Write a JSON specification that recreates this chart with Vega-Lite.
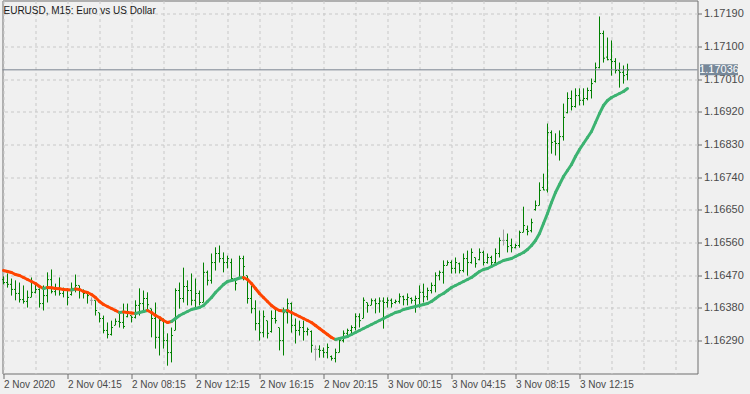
{
"$schema": "https://vega.github.io/schema/vega-lite/v6.json",
"width": 695, "height": 373,
"autosize": {"type": "none"},
"padding": {"left": 2.5, "top": 0.5, "right": 52.5, "bottom": 20.5},
"background": "#f0f0f0",
"title": {"text": "EURUSD, M15:  Euro vs US Dollar", "anchor": "start", "frame": "group", "orient": "top", "offset": -23, "baseline": "alphabetic", "font": "Liberation Sans", "fontSize": 10, "fontWeight": "normal", "color": "#1a1a1a", "dx": 1},
"config": {"view": {"stroke": "#6e6e6e", "strokeWidth": 1}, "axis": {"labelOverlap": false, "labelBound": false}},
"data": {"format": {"parse": {"t": "utc:'%Y-%m-%d %H:%M'"}}, "values": [
{"t":"2020-11-02 00:15","o":1.16458,"h":1.16467,"l":1.16445,"c":1.16450,"ma":1.164832,"trend":"down"},
{"t":"2020-11-02 00:30","o":1.16450,"h":1.16475,"l":1.16436,"c":1.16445,"ma":1.164804,"trend":"down"},
{"t":"2020-11-02 00:45","o":1.16445,"h":1.16461,"l":1.16414,"c":1.16431,"ma":1.164776,"trend":"down"},
{"t":"2020-11-02 01:00","o":1.16431,"h":1.16456,"l":1.16401,"c":1.16420,"ma":1.164721,"trend":"down"},
{"t":"2020-11-02 01:15","o":1.16420,"h":1.16450,"l":1.16395,"c":1.16403,"ma":1.164694,"trend":"down"},
{"t":"2020-11-02 01:30","o":1.16403,"h":1.16442,"l":1.16392,"c":1.16398,"ma":1.164639,"trend":"down"},
{"t":"2020-11-02 01:45","o":1.16398,"h":1.16428,"l":1.16381,"c":1.16409,"ma":1.164584,"trend":"down"},
{"t":"2020-11-02 02:00","o":1.16409,"h":1.16464,"l":1.16409,"c":1.16423,"ma":1.164528,"trend":"down"},
{"t":"2020-11-02 02:15","o":1.16423,"h":1.16447,"l":1.16420,"c":1.16431,"ma":1.164473,"trend":"down"},
{"t":"2020-11-02 02:30","o":1.16431,"h":1.16434,"l":1.16381,"c":1.16392,"ma":1.164391,"trend":"down"},
{"t":"2020-11-02 02:45","o":1.16392,"h":1.16442,"l":1.16373,"c":1.16414,"ma":1.164336,"trend":"up"},
{"t":"2020-11-02 03:00","o":1.16414,"h":1.16478,"l":1.16395,"c":1.16458,"ma":1.164363,"trend":"down"},
{"t":"2020-11-02 03:15","o":1.16458,"h":1.16486,"l":1.16420,"c":1.16425,"ma":1.164355,"trend":"down"},
{"t":"2020-11-02 03:30","o":1.16425,"h":1.16447,"l":1.16414,"c":1.16434,"ma":1.164336,"trend":"down"},
{"t":"2020-11-02 03:45","o":1.16434,"h":1.16464,"l":1.16414,"c":1.16420,"ma":1.164328,"trend":"down"},
{"t":"2020-11-02 04:00","o":1.16420,"h":1.16436,"l":1.16409,"c":1.16428,"ma":1.164308,"trend":"down"},
{"t":"2020-11-02 04:15","o":1.16428,"h":1.16434,"l":1.16387,"c":1.16409,"ma":1.164303,"trend":"down"},
{"t":"2020-11-02 04:30","o":1.16417,"h":1.16450,"l":1.16414,"c":1.16434,"ma":1.164294,"trend":"up"},
{"t":"2020-11-02 04:45","o":1.16434,"h":1.16472,"l":1.16423,"c":1.16442,"ma":1.164322,"trend":"down"},
{"t":"2020-11-02 05:00","o":1.16442,"h":1.16442,"l":1.16406,"c":1.16428,"ma":1.164308,"trend":"down"},
{"t":"2020-11-02 05:15","o":1.16428,"h":1.16431,"l":1.16406,"c":1.16420,"ma":1.164253,"trend":"down"},
{"t":"2020-11-02 05:30","o":1.16420,"h":1.16423,"l":1.16392,"c":1.16414,"ma":1.164225,"trend":"down"},
{"t":"2020-11-02 05:45","o":1.16401,"h":1.16409,"l":1.16387,"c":1.16401,"ma":1.164170,"trend":"down"},
{"t":"2020-11-02 06:00","o":1.16401,"h":1.16401,"l":1.16359,"c":1.16373,"ma":1.164088,"trend":"down"},
{"t":"2020-11-02 06:15","o":1.16367,"h":1.16367,"l":1.16340,"c":1.16351,"ma":1.163978,"trend":"down"},
{"t":"2020-11-02 06:30","o":1.16351,"h":1.16359,"l":1.16310,"c":1.16318,"ma":1.163895,"trend":"down"},
{"t":"2020-11-02 06:45","o":1.16318,"h":1.16340,"l":1.16296,"c":1.16307,"ma":1.163840,"trend":"down"},
{"t":"2020-11-02 07:00","o":1.16307,"h":1.16345,"l":1.16304,"c":1.16326,"ma":1.163785,"trend":"down"},
{"t":"2020-11-02 07:15","o":1.16332,"h":1.16351,"l":1.16332,"c":1.16343,"ma":1.163730,"trend":"down"},
{"t":"2020-11-02 07:30","o":1.16343,"h":1.16365,"l":1.16326,"c":1.16340,"ma":1.163674,"trend":"up"},
{"t":"2020-11-02 07:45","o":1.16340,"h":1.16392,"l":1.16323,"c":1.16329,"ma":1.163688,"trend":"down"},
{"t":"2020-11-02 08:00","o":1.16356,"h":1.16392,"l":1.16354,"c":1.16370,"ma":1.163674,"trend":"down"},
{"t":"2020-11-02 08:15","o":1.16359,"h":1.16359,"l":1.16340,"c":1.16354,"ma":1.163660,"trend":"down"},
{"t":"2020-11-02 08:30","o":1.16354,"h":1.16401,"l":1.16351,"c":1.16387,"ma":1.163647,"trend":"up"},
{"t":"2020-11-02 08:45","o":1.16387,"h":1.16434,"l":1.16359,"c":1.16392,"ma":1.163674,"trend":"up"},
{"t":"2020-11-02 09:00","o":1.16392,"h":1.16428,"l":1.16367,"c":1.16406,"ma":1.163702,"trend":"up"},
{"t":"2020-11-02 09:15","o":1.16406,"h":1.16423,"l":1.16373,"c":1.16389,"ma":1.163730,"trend":"down"},
{"t":"2020-11-02 09:30","o":1.16378,"h":1.16378,"l":1.16299,"c":1.16351,"ma":1.163674,"trend":"down"},
{"t":"2020-11-02 09:45","o":1.16351,"h":1.16395,"l":1.16268,"c":1.16299,"ma":1.163592,"trend":"down"},
{"t":"2020-11-02 10:00","o":1.16299,"h":1.16354,"l":1.16249,"c":1.16345,"ma":1.163537,"trend":"down"},
{"t":"2020-11-02 10:15","o":1.16345,"h":1.16351,"l":1.16268,"c":1.16290,"ma":1.163454,"trend":"down"},
{"t":"2020-11-02 10:30","o":1.16290,"h":1.16310,"l":1.16221,"c":1.16257,"ma":1.163399,"trend":"down"},
{"t":"2020-11-02 10:45","o":1.16257,"h":1.16326,"l":1.16230,"c":1.16304,"ma":1.163426,"trend":"up"},
{"t":"2020-11-02 11:00","o":1.16318,"h":1.16434,"l":1.16318,"c":1.16428,"ma":1.163509,"trend":"up"},
{"t":"2020-11-02 11:15","o":1.16428,"h":1.16450,"l":1.16378,"c":1.16406,"ma":1.163592,"trend":"up"},
{"t":"2020-11-02 11:30","o":1.16406,"h":1.16491,"l":1.16395,"c":1.16439,"ma":1.163647,"trend":"up"},
{"t":"2020-11-02 11:45","o":1.16439,"h":1.16456,"l":1.16387,"c":1.16428,"ma":1.163702,"trend":"up"},
{"t":"2020-11-02 12:00","o":1.16428,"h":1.16475,"l":1.16387,"c":1.16401,"ma":1.163757,"trend":"up"},
{"t":"2020-11-02 12:15","o":1.16401,"h":1.16461,"l":1.16378,"c":1.16420,"ma":1.163785,"trend":"up"},
{"t":"2020-11-02 12:30","o":1.16420,"h":1.16428,"l":1.16387,"c":1.16395,"ma":1.163812,"trend":"up"},
{"t":"2020-11-02 12:45","o":1.16395,"h":1.16505,"l":1.16395,"c":1.16478,"ma":1.163867,"trend":"up"},
{"t":"2020-11-02 13:00","o":1.16478,"h":1.16483,"l":1.16442,"c":1.16456,"ma":1.163978,"trend":"up"},
{"t":"2020-11-02 13:15","o":1.16456,"h":1.16530,"l":1.16447,"c":1.16505,"ma":1.164088,"trend":"up"},
{"t":"2020-11-02 13:30","o":1.16505,"h":1.16547,"l":1.16483,"c":1.16530,"ma":1.164225,"trend":"up"},
{"t":"2020-11-02 13:45","o":1.16530,"h":1.16552,"l":1.16505,"c":1.16516,"ma":1.164336,"trend":"up"},
{"t":"2020-11-02 14:00","o":1.16516,"h":1.16533,"l":1.16478,"c":1.16505,"ma":1.164446,"trend":"up"},
{"t":"2020-11-02 14:15","o":1.16505,"h":1.16524,"l":1.16489,"c":1.16516,"ma":1.164528,"trend":"up"},
{"t":"2020-11-02 14:30","o":1.16505,"h":1.16516,"l":1.16456,"c":1.16461,"ma":1.164556,"trend":"up"},
{"t":"2020-11-02 14:45","o":1.16461,"h":1.16461,"l":1.16428,"c":1.16447,"ma":1.164584,"trend":"up"},
{"t":"2020-11-02 15:00","o":1.16464,"h":1.16524,"l":1.16461,"c":1.16516,"ma":1.164625,"trend":"up"},
{"t":"2020-11-02 15:15","o":1.16516,"h":1.16524,"l":1.16456,"c":1.16494,"ma":1.164639,"trend":"down"},
{"t":"2020-11-02 15:30","o":1.16469,"h":1.16469,"l":1.16392,"c":1.16406,"ma":1.164584,"trend":"down"},
{"t":"2020-11-02 15:45","o":1.16406,"h":1.16442,"l":1.16365,"c":1.16378,"ma":1.164473,"trend":"down"},
{"t":"2020-11-02 16:00","o":1.16378,"h":1.16401,"l":1.16318,"c":1.16337,"ma":1.164336,"trend":"down"},
{"t":"2020-11-02 16:15","o":1.16337,"h":1.16373,"l":1.16290,"c":1.16312,"ma":1.164198,"trend":"down"},
{"t":"2020-11-02 16:30","o":1.16312,"h":1.16373,"l":1.16299,"c":1.16356,"ma":1.164088,"trend":"down"},
{"t":"2020-11-02 16:45","o":1.16345,"h":1.16345,"l":1.16296,"c":1.16310,"ma":1.163978,"trend":"down"},
{"t":"2020-11-02 17:00","o":1.16315,"h":1.16373,"l":1.16312,"c":1.16351,"ma":1.163867,"trend":"down"},
{"t":"2020-11-02 17:15","o":1.16351,"h":1.16381,"l":1.16337,"c":1.16345,"ma":1.163785,"trend":"down"},
{"t":"2020-11-02 17:30","o":1.16326,"h":1.16326,"l":1.16263,"c":1.16290,"ma":1.163730,"trend":"down"},
{"t":"2020-11-02 17:45","o":1.16290,"h":1.16381,"l":1.16249,"c":1.16367,"ma":1.163716,"trend":"up"},
{"t":"2020-11-02 18:00","o":1.16367,"h":1.16406,"l":1.16337,"c":1.16392,"ma":1.163730,"trend":"down"},
{"t":"2020-11-02 18:15","o":1.16392,"h":1.16395,"l":1.16312,"c":1.16332,"ma":1.163674,"trend":"down"},
{"t":"2020-11-02 18:30","o":1.16332,"h":1.16351,"l":1.16282,"c":1.16318,"ma":1.163619,"trend":"down"},
{"t":"2020-11-02 18:45","o":1.16318,"h":1.16345,"l":1.16304,"c":1.16326,"ma":1.163564,"trend":"down"},
{"t":"2020-11-02 19:00","o":1.16326,"h":1.16345,"l":1.16290,"c":1.16315,"ma":1.163509,"trend":"down"},
{"t":"2020-11-02 19:15","o":1.16315,"h":1.16326,"l":1.16304,"c":1.16321,"ma":1.163454,"trend":"down"},
{"t":"2020-11-02 19:30","o":1.16315,"h":1.16318,"l":1.16257,"c":1.16277,"ma":1.163399,"trend":"down"},
{"t":"2020-11-02 19:45","o":1.16266,"h":1.16277,"l":1.16235,"c":1.16266,"ma":1.163316,"trend":"down"},
{"t":"2020-11-02 20:00","o":1.16266,"h":1.16277,"l":1.16243,"c":1.16263,"ma":1.163234,"trend":"down"},
{"t":"2020-11-02 20:15","o":1.16263,"h":1.16271,"l":1.16243,"c":1.16257,"ma":1.163151,"trend":"down"},
{"t":"2020-11-02 20:30","o":1.16257,"h":1.16282,"l":1.16241,"c":1.16271,"ma":1.163068,"trend":"down"},
{"t":"2020-11-02 20:45","o":1.16246,"h":1.16249,"l":1.16235,"c":1.16241,"ma":1.162986,"trend":"down"},
{"t":"2020-11-02 21:00","o":1.16241,"h":1.16268,"l":1.16230,"c":1.16257,"ma":1.162931,"trend":"up"},
{"t":"2020-11-02 21:15","o":1.16257,"h":1.16299,"l":1.16257,"c":1.16290,"ma":1.162958,"trend":"up"},
{"t":"2020-11-02 21:30","o":1.16290,"h":1.16318,"l":1.16285,"c":1.16310,"ma":1.162986,"trend":"up"},
{"t":"2020-11-02 21:45","o":1.16310,"h":1.16323,"l":1.16304,"c":1.16318,"ma":1.163013,"trend":"up"},
{"t":"2020-11-02 22:00","o":1.16318,"h":1.16332,"l":1.16304,"c":1.16326,"ma":1.163068,"trend":"up"},
{"t":"2020-11-02 22:15","o":1.16326,"h":1.16365,"l":1.16318,"c":1.16356,"ma":1.163123,"trend":"up"},
{"t":"2020-11-02 22:30","o":1.16356,"h":1.16365,"l":1.16326,"c":1.16345,"ma":1.163179,"trend":"up"},
{"t":"2020-11-02 22:45","o":1.16351,"h":1.16409,"l":1.16351,"c":1.16401,"ma":1.163234,"trend":"up"},
{"t":"2020-11-02 23:00","o":1.16395,"h":1.16395,"l":1.16367,"c":1.16387,"ma":1.163289,"trend":"up"},
{"t":"2020-11-02 23:15","o":1.16387,"h":1.16406,"l":1.16387,"c":1.16400,"ma":1.163344,"trend":"up"},
{"t":"2020-11-02 23:30","o":1.16400,"h":1.16406,"l":1.16365,"c":1.16392,"ma":1.163399,"trend":"up"},
{"t":"2020-11-02 23:45","o":1.16392,"h":1.16409,"l":1.16367,"c":1.16399,"ma":1.163454,"trend":"up"},
{"t":"2020-11-03 00:00","o":1.16399,"h":1.16409,"l":1.16323,"c":1.16395,"ma":1.163509,"trend":"up"},
{"t":"2020-11-03 00:15","o":1.16395,"h":1.16409,"l":1.16381,"c":1.16401,"ma":1.163564,"trend":"up"},
{"t":"2020-11-03 00:30","o":1.16401,"h":1.16406,"l":1.16381,"c":1.16392,"ma":1.163619,"trend":"up"},
{"t":"2020-11-03 00:45","o":1.16395,"h":1.16403,"l":1.16392,"c":1.16398,"ma":1.163674,"trend":"up"},
{"t":"2020-11-03 01:00","o":1.16398,"h":1.16420,"l":1.16392,"c":1.16411,"ma":1.163702,"trend":"up"},
{"t":"2020-11-03 01:15","o":1.16411,"h":1.16414,"l":1.16387,"c":1.16403,"ma":1.163757,"trend":"up"},
{"t":"2020-11-03 01:30","o":1.16403,"h":1.16420,"l":1.16387,"c":1.16409,"ma":1.163785,"trend":"up"},
{"t":"2020-11-03 01:45","o":1.16406,"h":1.16409,"l":1.16392,"c":1.16401,"ma":1.163812,"trend":"up"},
{"t":"2020-11-03 02:00","o":1.16401,"h":1.16414,"l":1.16367,"c":1.16406,"ma":1.163840,"trend":"up"},
{"t":"2020-11-03 02:15","o":1.16406,"h":1.16442,"l":1.16381,"c":1.16423,"ma":1.163867,"trend":"up"},
{"t":"2020-11-03 02:30","o":1.16423,"h":1.16447,"l":1.16395,"c":1.16411,"ma":1.163895,"trend":"up"},
{"t":"2020-11-03 02:45","o":1.16411,"h":1.16436,"l":1.16401,"c":1.16428,"ma":1.163922,"trend":"up"},
{"t":"2020-11-03 03:00","o":1.16428,"h":1.16450,"l":1.16420,"c":1.16442,"ma":1.163978,"trend":"up"},
{"t":"2020-11-03 03:15","o":1.16442,"h":1.16478,"l":1.16423,"c":1.16469,"ma":1.164060,"trend":"up"},
{"t":"2020-11-03 03:30","o":1.16469,"h":1.16483,"l":1.16456,"c":1.16478,"ma":1.164143,"trend":"up"},
{"t":"2020-11-03 03:45","o":1.16478,"h":1.16511,"l":1.16447,"c":1.16497,"ma":1.164198,"trend":"up"},
{"t":"2020-11-03 04:00","o":1.16497,"h":1.16511,"l":1.16497,"c":1.16505,"ma":1.164281,"trend":"up"},
{"t":"2020-11-03 04:15","o":1.16505,"h":1.16511,"l":1.16475,"c":1.16489,"ma":1.164363,"trend":"up"},
{"t":"2020-11-03 04:30","o":1.16489,"h":1.16519,"l":1.16475,"c":1.16505,"ma":1.164418,"trend":"up"},
{"t":"2020-11-03 04:45","o":1.16502,"h":1.16505,"l":1.16475,"c":1.16483,"ma":1.164473,"trend":"up"},
{"t":"2020-11-03 05:00","o":1.16483,"h":1.16530,"l":1.16478,"c":1.16516,"ma":1.164528,"trend":"up"},
{"t":"2020-11-03 05:15","o":1.16516,"h":1.16538,"l":1.16469,"c":1.16505,"ma":1.164584,"trend":"up"},
{"t":"2020-11-03 05:30","o":1.16505,"h":1.16544,"l":1.16502,"c":1.16533,"ma":1.164639,"trend":"up"},
{"t":"2020-11-03 05:45","o":1.16519,"h":1.16519,"l":1.16491,"c":1.16502,"ma":1.164721,"trend":"up"},
{"t":"2020-11-03 06:00","o":1.16513,"h":1.16544,"l":1.16511,"c":1.16533,"ma":1.164804,"trend":"up"},
{"t":"2020-11-03 06:15","o":1.16533,"h":1.16538,"l":1.16497,"c":1.16505,"ma":1.164859,"trend":"up"},
{"t":"2020-11-03 06:30","o":1.16505,"h":1.16530,"l":1.16502,"c":1.16519,"ma":1.164887,"trend":"up"},
{"t":"2020-11-03 06:45","o":1.16519,"h":1.16524,"l":1.16491,"c":1.16505,"ma":1.164942,"trend":"up"},
{"t":"2020-11-03 07:00","o":1.16505,"h":1.16544,"l":1.16502,"c":1.16530,"ma":1.164997,"trend":"up"},
{"t":"2020-11-03 07:15","o":1.16530,"h":1.16574,"l":1.16519,"c":1.16566,"ma":1.165052,"trend":"up"},
{"t":"2020-11-03 07:30","o":1.16566,"h":1.16596,"l":1.16552,"c":1.16566,"ma":1.165107,"trend":"up"},
{"t":"2020-11-03 07:45","o":1.16566,"h":1.16585,"l":1.16533,"c":1.16549,"ma":1.165135,"trend":"up"},
{"t":"2020-11-03 08:00","o":1.16552,"h":1.16571,"l":1.16533,"c":1.16546,"ma":1.165162,"trend":"up"},
{"t":"2020-11-03 08:15","o":1.16546,"h":1.16557,"l":1.16544,"c":1.16552,"ma":1.165217,"trend":"up"},
{"t":"2020-11-03 08:30","o":1.16552,"h":1.16593,"l":1.16546,"c":1.16588,"ma":1.165272,"trend":"up"},
{"t":"2020-11-03 08:45","o":1.16588,"h":1.16659,"l":1.16588,"c":1.16607,"ma":1.165327,"trend":"up"},
{"t":"2020-11-03 09:00","o":1.16596,"h":1.16607,"l":1.16580,"c":1.16591,"ma":1.165410,"trend":"up"},
{"t":"2020-11-03 09:15","o":1.16593,"h":1.16626,"l":1.16588,"c":1.16615,"ma":1.165520,"trend":"up"},
{"t":"2020-11-03 09:30","o":1.16651,"h":1.16676,"l":1.16648,"c":1.16662,"ma":1.165658,"trend":"up"},
{"t":"2020-11-03 09:45","o":1.16662,"h":1.16726,"l":1.16662,"c":1.16704,"ma":1.165851,"trend":"up"},
{"t":"2020-11-03 10:00","o":1.16712,"h":1.16750,"l":1.16704,"c":1.16705,"ma":1.166126,"trend":"up"},
{"t":"2020-11-03 10:15","o":1.16705,"h":1.16888,"l":1.16698,"c":1.16863,"ma":1.166402,"trend":"up"},
{"t":"2020-11-03 10:30","o":1.16863,"h":1.16869,"l":1.16805,"c":1.16836,"ma":1.166705,"trend":"up"},
{"t":"2020-11-03 10:45","o":1.16839,"h":1.16861,"l":1.16800,"c":1.16833,"ma":1.166980,"trend":"up"},
{"t":"2020-11-03 11:00","o":1.16833,"h":1.16869,"l":1.16786,"c":1.16852,"ma":1.167201,"trend":"up"},
{"t":"2020-11-03 11:15","o":1.16852,"h":1.16943,"l":1.16841,"c":1.16905,"ma":1.167421,"trend":"up"},
{"t":"2020-11-03 11:30","o":1.16918,"h":1.16974,"l":1.16916,"c":1.16957,"ma":1.167587,"trend":"up"},
{"t":"2020-11-03 11:45","o":1.16957,"h":1.16979,"l":1.16924,"c":1.16935,"ma":1.167752,"trend":"up"},
{"t":"2020-11-03 12:00","o":1.16935,"h":1.16985,"l":1.16932,"c":1.16965,"ma":1.167972,"trend":"up"},
{"t":"2020-11-03 12:15","o":1.16965,"h":1.16985,"l":1.16938,"c":1.16952,"ma":1.168165,"trend":"up"},
{"t":"2020-11-03 12:30","o":1.16952,"h":1.16985,"l":1.16938,"c":1.16957,"ma":1.168330,"trend":"up"},
{"t":"2020-11-03 12:45","o":1.16957,"h":1.16987,"l":1.16952,"c":1.16979,"ma":1.168496,"trend":"up"},
{"t":"2020-11-03 13:00","o":1.16979,"h":1.17012,"l":1.16957,"c":1.16998,"ma":1.168661,"trend":"up"},
{"t":"2020-11-03 13:15","o":1.17004,"h":1.17056,"l":1.17001,"c":1.17042,"ma":1.168909,"trend":"up"},
{"t":"2020-11-03 13:30","o":1.17042,"h":1.17183,"l":1.17040,"c":1.17136,"ma":1.169157,"trend":"up"},
{"t":"2020-11-03 13:45","o":1.17136,"h":1.17144,"l":1.17056,"c":1.17068,"ma":1.169377,"trend":"up"},
{"t":"2020-11-03 14:00","o":1.17071,"h":1.17125,"l":1.17062,"c":1.17064,"ma":1.169515,"trend":"up"},
{"t":"2020-11-03 14:15","o":1.17064,"h":1.17117,"l":1.17020,"c":1.17059,"ma":1.169598,"trend":"up"},
{"t":"2020-11-03 14:30","o":1.17059,"h":1.17068,"l":1.17026,"c":1.17034,"ma":1.169653,"trend":"up"},
{"t":"2020-11-03 14:45","o":1.17034,"h":1.17056,"l":1.16987,"c":1.17029,"ma":1.169708,"trend":"up"},
{"t":"2020-11-03 15:00","o":1.17029,"h":1.17048,"l":1.16998,"c":1.17020,"ma":1.169763,"trend":"up"},
{"t":"2020-11-03 15:15","o":1.17023,"h":1.17053,"l":1.17007,"c":1.17036,"ma":1.169846,"trend":"up"}
]},
"layer": [
{"mark": {"type": "rule", "strokeWidth": 1},
 "encoding": {
  "x": {"field": "t", "type": "temporal", "scale": {"type": "utc", "domain": [1604275875000, 1604432250000], "nice": false},
   "axis": {"orient": "bottom", "title": null, "domain": false, "tickCount": 40,
    "values": [1604276100000,1604283300000,1604290500000,1604297700000,1604304900000,1604312100000,1604319300000,1604326500000,1604333700000,1604340900000,1604348100000,1604355300000,1604362500000,1604369700000,1604376900000,1604384100000,1604391300000,1604398500000,1604405700000,1604412900000,1604420100000,1604427300000],
    "labelExpr": "(utchours(datum.value) % 4 != 0 || datum.value > 1604413600000) ? '' : ((utchours(datum.value) == 0 && utcdate(datum.value) == 2) ? '2 Nov 2020' : utcFormat(datum.value, '%-d %b %H:%M'))",
    "tickOpacity": {"condition": {"test": "utchours(datum.value) % 4 == 0 && datum.value < 1604413600000", "value": 1}, "value": 0},
    "tickSize": 5, "tickColor": "#6e6e6e", "grid": true, "gridColor": "#c8c8c8", "gridDash": [3, 3],
    "labelAlign": "left", "labelBaseline": "top", "labelPadding": 1, "labelFont": "Liberation Sans", "labelFontSize": 10, "labelColor": "#4a4a4a",
    "labelFlush": false, "labelOverlap": false, "labelBound": false}},
  "y": {"field": "l", "type": "quantitative", "scale": {"domain": [1.161994, 1.17227], "nice": false, "zero": false},
   "axis": {"orient": "right", "title": null, "domain": false, "tickCount": 30,
    "values": [1.1629, 1.1638, 1.1647, 1.1656, 1.1665, 1.1674, 1.1683, 1.1692, 1.1701, 1.1710, 1.1719],
    "format": ".5f", "tickSize": 4, "tickColor": "#6e6e6e", "grid": true, "gridColor": "#c8c8c8", "gridDash": [3, 3],
    "labelPadding": 2, "labelAlign": "left", "labelBaseline": "middle", "labelFont": "Liberation Sans", "labelFontSize": 11, "labelColor": "#4a4a4a", "labelOverlap": false, "labelBound": false}},
  "y2": {"field": "h"},
  "color": {"condition": {"test": "datum.o == datum.c", "value": "#a0a0a0"}, "value": "#008000"}}},
{"data": {"values": [{"price": 1.17036}]},
 "mark": {"type": "rule", "color": "#7a8290", "strokeWidth": 1},
 "encoding": {"y": {"field": "price", "type": "quantitative"}}},
{"mark": {"type": "rule", "strokeWidth": 1, "xOffset": -1.5, "x2Offset": -0.5},
 "encoding": {
  "x": {"field": "t", "type": "temporal"}, "x2": {"field": "t"},
  "y": {"field": "o", "type": "quantitative"},
  "color": {"condition": {"test": "datum.o == datum.c", "value": "#a0a0a0"}, "value": "#008000"}}},
{"mark": {"type": "rule", "strokeWidth": 1, "xOffset": 0.5, "x2Offset": 1.5},
 "encoding": {
  "x": {"field": "t", "type": "temporal"}, "x2": {"field": "t"},
  "y": {"field": "c", "type": "quantitative"},
  "color": {"condition": {"test": "datum.o == datum.c", "value": "#a0a0a0"}, "value": "#008000"}}},
{"transform": [
  {"window": [{"op": "lead", "field": "t", "as": "t2"}, {"op": "lead", "field": "ma", "as": "ma2"}], "sort": [{"field": "t", "order": "ascending"}]},
  {"filter": "datum.t2 != null"}],
 "mark": {"type": "rule", "strokeWidth": 3, "strokeCap": "round"},
 "encoding": {
  "x": {"field": "t", "type": "temporal"}, "x2": {"field": "t2"},
  "y": {"field": "ma", "type": "quantitative"}, "y2": {"field": "ma2"},
  "color": {"field": "trend", "type": "nominal", "scale": {"domain": ["down", "up"], "range": ["#ff4500", "#3cb371"]}, "legend": null}}},
{"data": {"values": [{"price": 1.17036}]},
 "mark": {"type": "rect", "color": "#778899", "yOffset": -5.5, "y2Offset": 5.5},
 "encoding": {
  "x": {"datum": 1604432812500, "type": "temporal"}, "x2": {"datum": 1604441362500},
  "y": {"field": "price", "type": "quantitative"}, "y2": {"field": "price"}}},
{"data": {"values": [{"price": 1.17036}]},
 "mark": {"type": "text", "color": "#ffffff", "font": "Liberation Sans", "fontSize": 11, "align": "center", "baseline": "middle"},
 "encoding": {
  "x": {"datum": 1604437087500, "type": "temporal"},
  "y": {"field": "price", "type": "quantitative"},
  "text": {"field": "price", "type": "quantitative", "format": ".5f"}}}
]
}
